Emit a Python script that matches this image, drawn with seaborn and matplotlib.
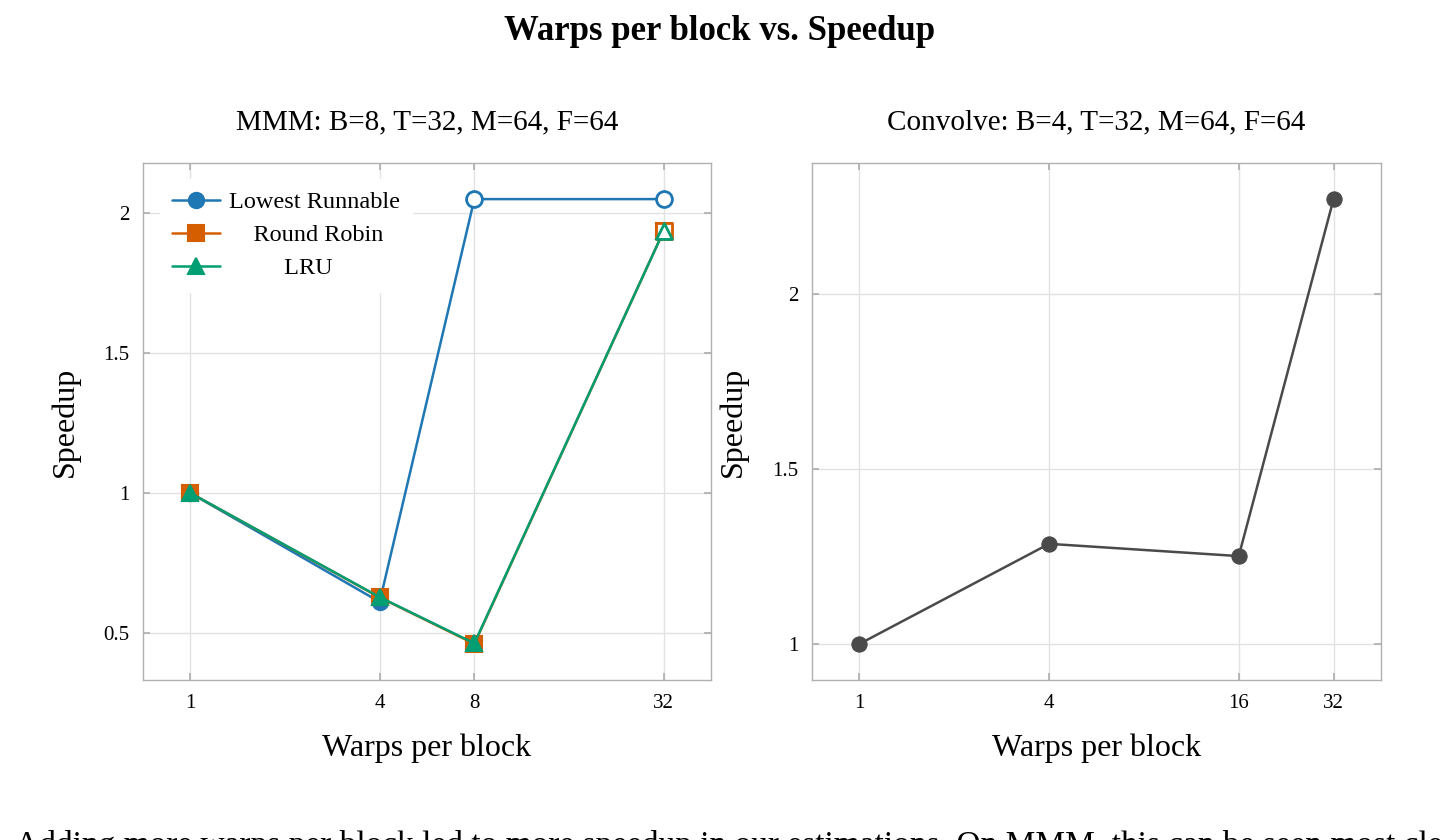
import matplotlib
matplotlib.use("Agg")
import matplotlib.pyplot as plt
import matplotlib.ticker as mticker
import numpy as np
import pandas as pd
import seaborn as sns

sns.set_theme(style="whitegrid")
plt.rcParams['font.family'] = ['Liberation Serif', 'DejaVu Serif']
plt.rcParams['text.color'] = 'black'
plt.rcParams['axes.labelcolor'] = 'black'

# --- data ---
mmm_warps = [1, 4, 8, 32]
mmm_lowest = [1.0, 0.611, 2.05, 2.05]
mmm_rr = [1.0, 0.627, 0.461, 1.936]
mmm_lru = [1.0, 0.628, 0.463, 1.936]
mmm_hollow_lowest = [False, False, True, True]
mmm_hollow_rr = [False, False, False, True]
mmm_hollow_lru = [False, False, False, True]
mmm_yticks = [0.5, 1, 1.5, 2]

conv_warps = [1, 4, 16, 32]
conv_speedup = [1.0, 1.286, 1.251, 2.271]
conv_yticks = [1, 1.5, 2]

series_names = ['Lowest Runnable', 'Round Robin', 'LRU']
series_colors = ['#1f77b4', '#d55e00', '#029e73']
series_markers = ['o', 's', '^']

title_left = 'MMM: B=8, T=32, M=64, F=64'
title_right = 'Convolve: B=4, T=32, M=64, F=64'
body_text = ('Adding more warps per block led to more speedup in our estimations. '
             'On MMM, this can be seen most clearly')


def style_axis(ax, ticks, yticks, ylim):
    ax.set_xscale('log', base=2)
    ax.set_xticks(ticks)
    ax.set_xticklabels([str(t) for t in ticks])
    ax.xaxis.set_minor_locator(mticker.NullLocator())
    ax.set_xlim(2 ** -0.5, 2 ** 5.5)
    ax.set_yticks(yticks)
    ax.set_ylim(*ylim)
    ax.yaxis.set_major_formatter(mticker.FuncFormatter(lambda v, p: '{:g}'.format(v)))
    ax.grid(True, color='#e2e2e2', linewidth=1.0)
    for s in ax.spines.values():
        s.set_color('#b0b0b0')
        s.set_linewidth(1.0)
    ax.tick_params(axis='both', which='major', direction='in', length=5,
                   color='#b0b0b0', labelsize=15, pad=10, labelcolor='black',
                   bottom=True, left=True, top=True, right=True)
    ax.set_xlabel('Warps per block', fontsize=23, labelpad=15)
    ax.set_ylabel('Speedup', fontsize=23, labelpad=17)


def main():
    fig = plt.figure(figsize=(14.4, 8.4), dpi=100)
    fig.patch.set_facecolor('white')
    ax1 = fig.add_axes([143 / 1440, 1 - 680 / 840, 568 / 1440, 517 / 840])
    ax2 = fig.add_axes([812 / 1440, 1 - 680 / 840, 569 / 1440, 517 / 840])

    # left: MMM
    ys = [mmm_lowest, mmm_rr, mmm_lru]
    hollows = [mmm_hollow_lowest, mmm_hollow_rr, mmm_hollow_lru]
    for name, y, col, mk, hol in zip(series_names, ys, series_colors, series_markers, hollows):
        df = pd.DataFrame({'warps': mmm_warps, 'speedup': y, 'hollow': hol})
        sns.lineplot(data=df, x='warps', y='speedup', ax=ax1, color=col, marker=mk,
                     markersize=11, markeredgecolor=col, markeredgewidth=1.5,
                     linewidth=1.8, label=name)
        sub = df[df['hollow']]
        sns.scatterplot(data=sub, x='warps', y='speedup', ax=ax1, marker=mk, s=130,
                        facecolor='white', edgecolor=col, linewidth=2.0, zorder=5,
                        legend=False)
    style_axis(ax1, mmm_warps, mmm_yticks, (0.332, 2.179))
    ax1.set_title(title_left, fontsize=21, pad=24)

    h, l = ax1.get_legend_handles_labels()
    # pad shorter labels so they sit centred under the longest one
    padded = ['Lowest Runnable', '    Round Robin', '         LRU']
    ax1.legend(h, padded, loc='upper left', bbox_to_anchor=(0.008, 0.992),
               fontsize=17.5, frameon=True, facecolor='white', edgecolor='white',
               framealpha=1.0, handlelength=2.0, handletextpad=0.35,
               labelspacing=0.45, borderpad=0.5, borderaxespad=0.5)

    # right: Convolve
    dfc = pd.DataFrame({'warps': conv_warps, 'speedup': conv_speedup})
    sns.lineplot(data=dfc, x='warps', y='speedup', ax=ax2, color='#4a4a4a', marker='o',
                 markersize=11, markeredgecolor='#4a4a4a', linewidth=1.8)
    style_axis(ax2, conv_warps, conv_yticks, (0.897, 2.374))
    ax2.set_title(title_right, fontsize=21, pad=24)

    fig.suptitle('Warps per block vs. Speedup', fontsize=25, fontweight='bold',
                 y=1 - 31 / 840, va='center')
    fig.text(0.0104, -0.017, body_text, fontsize=24, va='baseline', ha='left')

    fig.savefig('out.png', dpi=100, facecolor='white')


if __name__ == '__main__':
    main()
